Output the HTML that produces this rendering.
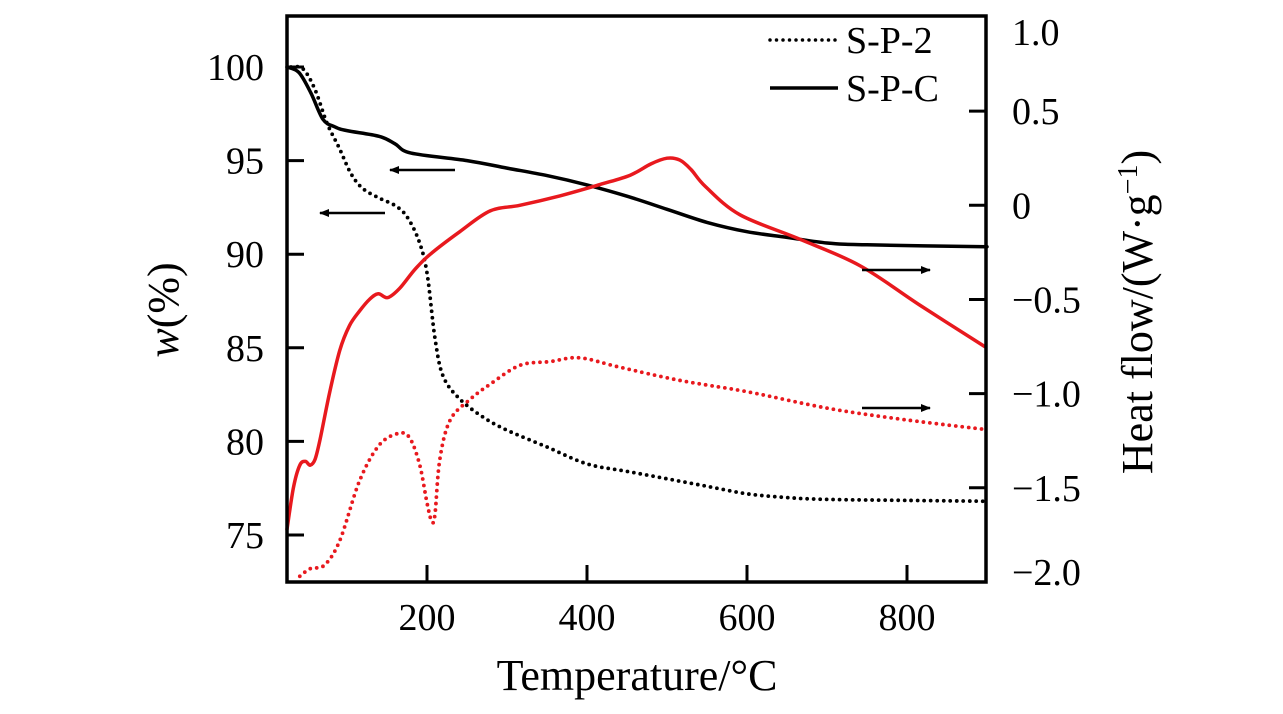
<!DOCTYPE html>
<html><head><meta charset="utf-8"><style>
html,body{margin:0;padding:0;background:#fff;}
svg text{font-family:"Liberation Serif",serif;fill:#000;}
</style></head><body>
<svg id="chart" width="1283" height="709" viewBox="0 0 1283 709" xmlns="http://www.w3.org/2000/svg">
<g id="marks"></g>
<rect x="287" y="16" width="699" height="566" fill="none" stroke="#000" stroke-width="3.5"/>
<g id="axes"></g>
<text x="637" y="690" font-size="44" text-anchor="middle">Temperature/°C</text>
<text transform="translate(178,310) rotate(-90)" font-size="44" text-anchor="middle"><tspan font-style="italic">w</tspan>(%)</text>
<text transform="translate(1152,312) rotate(-90)" font-size="44" text-anchor="middle">Heat flow/(W·g<tspan baseline-shift="super" font-size="28">−1</tspan>)</text>
<g>
<line x1="770" y1="40" x2="838" y2="40" stroke="#000" stroke-width="3.5" stroke-dasharray="0 6.5" stroke-linecap="round"/>
<text x="846" y="53" font-size="38">S-P-2</text>
<line x1="770" y1="88" x2="838" y2="88" stroke="#000" stroke-width="3.5"/>
<text x="846" y="101" font-size="38">S-P-C</text>
</g>
<defs><marker id="ah" markerWidth="10" markerHeight="10" refX="9" refY="5" orient="auto" markerUnits="userSpaceOnUse"><path d="M0,1 L10,5 L0,9 Z" fill="#000"/></marker></defs>
<line x1="455" y1="170" x2="390" y2="170" stroke="#000" stroke-width="2.5" marker-end="url(#ah)"/>
<line x1="385" y1="213" x2="320" y2="213" stroke="#000" stroke-width="2.5" marker-end="url(#ah)"/>
<line x1="862" y1="270" x2="930" y2="270" stroke="#000" stroke-width="2.5" marker-end="url(#ah)"/>
<line x1="862" y1="408" x2="930" y2="408" stroke="#000" stroke-width="2.5" marker-end="url(#ah)"/>
</svg>
<script>
const xTicks=[200,400,600,800];
const wTicks=[75,80,85,90,95,100];
const hTicks=[-2.0,-1.5,-1.0,-0.5,0,0.5,1.0];
const hTickLabels=["−2.0","−1.5","−1.0","−0.5","0","0.5","1.0"];
const tgSP2T=[30,45,60,75,90,105,120,140,160,175,190,200,210,220,240,270,300,350,400,450,500,550,600,650,700,800,900];
const tgSP2W=[100.0,99.9,98.8,97.0,95.7,94.3,93.5,93.0,92.6,92.0,90.7,89.0,85.5,83.5,82.3,81.3,80.6,79.7,78.8,78.4,78.0,77.6,77.2,77.0,76.9,76.85,76.8];
const tgSPCT=[25,40,55,70,85,100,140,160,180,250,300,350,400,450,500,550,600,650,700,750,900];
const tgSPCW=[100,99.7,98.6,97.2,96.8,96.6,96.3,95.9,95.4,95.0,94.6,94.2,93.7,93.1,92.4,91.7,91.2,90.9,90.6,90.5,90.4];
const dscSPCT=[25,33,41,48,54,60,66,78,91,103,116,128,139,151,166,185,204,241,279,316,366,416,454,480,500,516,530,548,591,666,741,816,897];
const dscSPCH=[-1.72,-1.5,-1.38,-1.36,-1.38,-1.35,-1.25,-1.0,-0.77,-0.64,-0.56,-0.5,-0.47,-0.49,-0.44,-0.34,-0.26,-0.14,-0.03,0.0,0.05,0.11,0.16,0.22,0.25,0.24,0.19,0.1,-0.05,-0.18,-0.32,-0.53,-0.75];
const dscSP2T=[41,54,72,91,116,141,166,179,191,200,206,210,216,229,254,279,316,354,391,441,516,600,704,800,897];
const dscSP2H=[-1.97,-1.93,-1.91,-1.78,-1.46,-1.27,-1.21,-1.24,-1.38,-1.58,-1.68,-1.64,-1.35,-1.14,-1.03,-0.95,-0.85,-0.83,-0.81,-0.86,-0.93,-0.99,-1.08,-1.14,-1.19];

const X=t=>287+(t-25)*0.8;
const YL=w=>67+(100-w)*18.72;
const YR=h=>17+(1-h)*188.3;
const NS="http://www.w3.org/2000/svg";
const marks=document.getElementById('marks'), axes=document.getElementById('axes');
function mk(tag,attrs,parent){const e=document.createElementNS(NS,tag);for(const k in attrs)e.setAttribute(k,attrs[k]);parent.appendChild(e);return e;}
function smooth(pts){
  let d='M'+pts[0][0].toFixed(1)+','+pts[0][1].toFixed(1);
  for(let i=0;i<pts.length-1;i++){
    const p0=pts[Math.max(0,i-1)],p1=pts[i],p2=pts[i+1],p3=pts[Math.min(pts.length-1,i+2)];
    const c1=[p1[0]+(p2[0]-p0[0])/6,p1[1]+(p2[1]-p0[1])/6];
    const c2=[p2[0]-(p3[0]-p1[0])/6,p2[1]-(p3[1]-p1[1])/6];
    d+=' C'+c1[0].toFixed(1)+','+c1[1].toFixed(1)+' '+c2[0].toFixed(1)+','+c2[1].toFixed(1)+' '+p2[0].toFixed(1)+','+p2[1].toFixed(1);
  }
  return d;
}
function line(ts,vs,yf,color,dotted,name){
  const pts=ts.map((t,i)=>[X(t),yf(vs[i])]);
  const p=mk('path',{d:smooth(pts),fill:'none',stroke:color,'stroke-width':dotted?3.8:3.5,'stroke-linejoin':'round','stroke-linecap':'round'},marks);
  if(dotted)p.setAttribute('stroke-dasharray','0 6.5');
  
  
}
line(tgSP2T,tgSP2W,YL,'#000',true,'tg-curve-s-p-2');
line(tgSPCT,tgSPCW,YL,'#000',false,'tg-curve-s-p-c');
line(dscSPCT,dscSPCH,YR,'#e8191e',false,'dsc-curve-s-p-c');
line(dscSP2T,dscSP2H,YR,'#e8191e',true,'dsc-curve-s-p-2');

xTicks.forEach(t=>{
  const l=mk('line',{x1:X(t),x2:X(t),y1:582,y2:565,stroke:'#000','stroke-width':3},axes);
  
  
  const tx=mk('text',{x:X(t),y:630,'font-size':38,'text-anchor':'middle'},axes);tx.textContent=t;
  
  
});
wTicks.forEach(w=>{
  const l=mk('line',{x1:287,x2:304,y1:YL(w),y2:YL(w),stroke:'#000','stroke-width':3},axes);
  
  
  const tx=mk('text',{x:264,y:YL(w)+13,'font-size':38,'text-anchor':'end'},axes);tx.textContent=w;
  
  
});
hTicks.forEach((h,i)=>{
  if(h>-2&&h<1){
    const l=mk('line',{x1:969,x2:986,y1:YR(h),y2:YR(h),stroke:'#000','stroke-width':3},axes);
    
    
  }
  let ly=YR(h)+13; if(h===1)ly=45; if(h===-2)ly=585;
  const tx=mk('text',{x:1012,y:ly,'font-size':38},axes);tx.textContent=hTickLabels[i];
  
  
});
</script>
</body></html>
